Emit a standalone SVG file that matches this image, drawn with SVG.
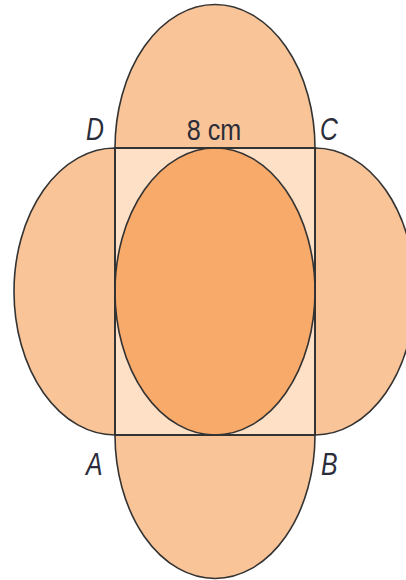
<svg xmlns="http://www.w3.org/2000/svg" width="406" height="580" viewBox="0 0 406 580">
<style>
.lobe{fill:#F9C598;stroke:#333;stroke-width:1.6}
.sq{fill:#FEE0C7;stroke:#333;stroke-width:1.8}
.in{fill:#F8AA6A;stroke:#333;stroke-width:1.6}
.lbl{font-family:"Liberation Sans",Arial,sans-serif;font-style:italic;font-size:31px;fill:#2b2d3a}
.dim{font-family:"Liberation Sans",Arial,sans-serif;font-size:30px;fill:#2b2d3a}
</style>
<rect width="406" height="580" fill="#fff"/>
<g id="lobe-top"><path class="lobe" d="M115,148 A100,143.5 0 0 1 315,148 Z"/></g>
<g id="lobe-right"><path class="lobe" d="M315,148 A100,143.5 0 0 1 315,435 Z"/></g>
<g id="lobe-bottom"><path class="lobe" d="M315,435 A100,143.5 0 0 1 115,435 Z"/></g>
<g id="lobe-left"><path class="lobe" d="M115,435 A101,143.5 0 0 1 115,148 Z"/></g>
<g id="square"><rect class="sq" x="115" y="148" width="200" height="287"/></g>
<g id="inner"><ellipse class="in" cx="215" cy="291.5" rx="100" ry="143.5"/></g>
<g id="square-edge"><rect x="115" y="148" width="200" height="287" fill="none" stroke="#333" stroke-width="1.8"/></g>
<g id="labels">
<text class="lbl" x="86" y="140" transform="translate(86 140) scale(0.8 1) translate(-86 -140)">D</text>
<text class="lbl" x="320" y="140" transform="translate(320 140) scale(0.8 1) translate(-320 -140)">C</text>
<text class="lbl" x="86" y="475" transform="translate(86 475) scale(0.8 1) translate(-86 -475)">A</text>
<text class="lbl" x="321" y="475" transform="translate(321 475) scale(0.8 1) translate(-321 -475)">B</text>
<text class="dim" x="214" y="140" text-anchor="middle" transform="translate(214 140) scale(0.84 1) translate(-214 -140)">8 cm</text>
</g>
</svg>
